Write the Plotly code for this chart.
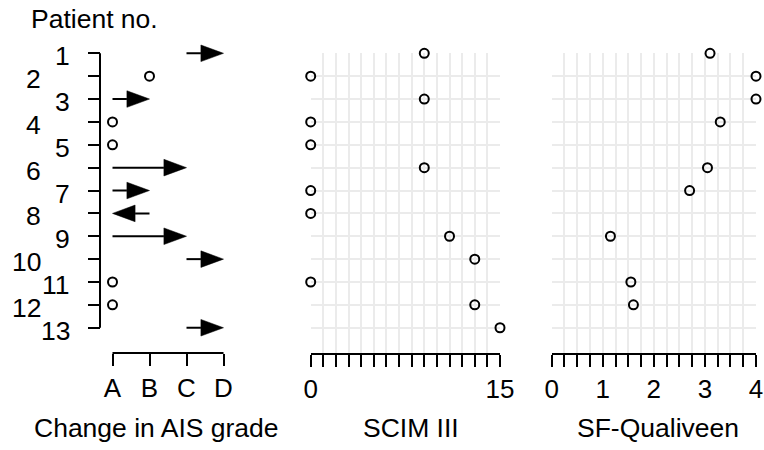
import plotly.graph_objects as go

# ---------------- data ----------------
patients = list(range(1, 13 + 1))
grade_labels = ["A", "B", "C", "D"]
# AIS grade at start and end (1=A ... 4=D)
ais_start = [3, 2, 1, 1, 1, 1, 1, 2, 1, 3, 1, 1, 3]
ais_end   = [4, 2, 2, 1, 1, 3, 2, 1, 3, 4, 1, 1, 4]
scim = [9, 0, 9, 0, 0, 9, 0, 0, 11, 13, 0, 13, 15]
sfq = [3.1, 4.0, 4.0, 3.3, None, 3.05, 2.7, None, 1.15, None, 1.55, 1.6, None]

# ---------------- geometry (pixels) ----------------
W, H = 764, 450
ROW1_PX, ROW_PX = 53.3, 22.87
AXIS_PX = 353.0
R_BOTTOM = 1 + (AXIS_PX - ROW1_PX) / ROW_PX
FONT = dict(family="Liberation Sans, Arial, sans-serif", size=26, color="black")
TITLE_FONT = dict(family="Liberation Sans, Arial, sans-serif", size=26.5, color="black")
GRID = "#ebebeb"

def xp(px):
    return px / W

def yp(py):
    return 1 - py / H

def ypx(r):
    return ROW1_PX + (r - 1) * ROW_PX

# left panel mapping: A(1)->112.5px, D(4)->223.5px
L_X0, L_X1 = 112.5, 223.5
L_UNIT = (L_X1 - L_X0) / 3
L_RANGE = [0.5, 4.5]
L_TOP_ROW = 0.3
HEAD_LEN = 22.6 / L_UNIT
HEAD_HALF = 8.3 / ROW_PX

fig = go.Figure()

marker = dict(symbol="circle-open", size=9, color="black", line=dict(width=2, color="black"))

# no-change points
nc_x = [s for s, e in zip(ais_start, ais_end) if s == e]
nc_y = [p for p, s, e in zip(patients, ais_start, ais_end) if s == e]
fig.add_trace(go.Scatter(x=nc_x, y=nc_y, mode="markers", marker=marker,
                         cliponaxis=False, xaxis="x", yaxis="y", showlegend=False))

# arrows
lx, ly, tx, ty = [], [], [], []
for p, s, e in zip(patients, ais_start, ais_end):
    if s == e:
        continue
    d = 1 if e > s else -1
    base = e - d * HEAD_LEN
    lx += [s, base, None]
    ly += [p, p, None]
    tx += [base, e, base, base, None]
    ty += [p - HEAD_HALF, p, p + HEAD_HALF, p - HEAD_HALF, None]
fig.add_trace(go.Scatter(x=lx, y=ly, mode="lines", line=dict(color="black", width=2),
                         xaxis="x", yaxis="y", showlegend=False))
fig.add_trace(go.Scatter(x=tx, y=ty, mode="lines", fill="toself", fillcolor="black",
                         line=dict(color="black", width=0.5),
                         xaxis="x", yaxis="y", showlegend=False))

# SCIM
fig.add_trace(go.Scatter(x=scim, y=patients, mode="markers", marker=marker,
                         cliponaxis=False, xaxis="x2", yaxis="y2", showlegend=False))
# SF-Qualiveen
fig.add_trace(go.Scatter(x=sfq, y=patients, mode="markers", marker=marker,
                         cliponaxis=False, xaxis="x3", yaxis="y3", showlegend=False))

tick_common = dict(ticks="outside", ticklen=12, tickwidth=2, tickcolor="black",
                   tickfont=FONT, zeroline=False, automargin=False)

lx0 = L_X0 - (1 - L_RANGE[0]) * L_UNIT
lx1 = L_X1 + (L_RANGE[1] - 4) * L_UNIT
scim_ticks = list(range(0, 16))
sfq_ticks = [i * 0.25 for i in range(17)]

fig.update_layout(
    template="none",
    width=W, height=H, margin=dict(l=0, r=0, t=0, b=0, autoexpand=False),
    paper_bgcolor="white", plot_bgcolor="white", font=FONT,
    xaxis=dict(domain=[xp(lx0), xp(lx1)], range=L_RANGE, anchor="y",
               tickvals=[1, 2, 3, 4], ticktext=grade_labels, showgrid=False,
               showline=False, **tick_common),
    yaxis=dict(domain=[yp(AXIS_PX), yp(ypx(L_TOP_ROW))], range=[R_BOTTOM, L_TOP_ROW],
               anchor="free", position=xp(100), tickvals=patients, showticklabels=False,
               showgrid=False, showline=False, ticks="outside", ticklen=12, tickwidth=2,
               tickcolor="black", zeroline=False, automargin=False),
    xaxis2=dict(domain=[xp(310.7), xp(500.0)], range=[0, 15], anchor="y2",
                tickvals=scim_ticks,
                ticktext=[str(v) if v in (0, 15) else "" for v in scim_ticks],
                showgrid=True, gridcolor=GRID, gridwidth=2,
                showline=True, linewidth=2, linecolor="black", **tick_common),
    yaxis2=dict(domain=[yp(AXIS_PX), yp(ROW1_PX)], range=[R_BOTTOM, 1], anchor="x2",
                tickvals=patients, showticklabels=False, ticks="", showgrid=True,
                gridcolor=GRID, gridwidth=2, zeroline=False, showline=False,
                automargin=False),
    xaxis3=dict(domain=[xp(551.7), xp(756.0)], range=[0, 4], anchor="y3",
                tickvals=sfq_ticks,
                ticktext=[str(int(v)) if v == int(v) else "" for v in sfq_ticks],
                showgrid=True, gridcolor=GRID, gridwidth=2,
                showline=True, linewidth=2, linecolor="black", **tick_common),
    yaxis3=dict(domain=[yp(AXIS_PX), yp(ROW1_PX)], range=[R_BOTTOM, 1], anchor="x3",
                tickvals=patients, showticklabels=False, ticks="", showgrid=True,
                gridcolor=GRID, gridwidth=2, zeroline=False, showline=False,
                automargin=False),
)

# axis lines of the left panel (span first to last tick only)
fig.add_shape(type="line", xref="x", yref="paper", x0=1, x1=4,
              y0=yp(AXIS_PX), y1=yp(AXIS_PX), line=dict(color="black", width=2))
fig.add_shape(type="line", xref="paper", yref="y", x0=xp(100), x1=xp(100),
              y0=patients[0], y1=patients[-1], line=dict(color="black", width=2))

# patient labels, alternating positions
for p in patients:
    fig.add_annotation(x=xp(72) if p % 2 == 1 else xp(43), y=p, xref="paper", yref="y",
                       text=str(p), showarrow=False, xanchor="right", yanchor="middle",
                       yshift=-3, font=TITLE_FONT)

# titles
fig.add_annotation(x=xp(29), y=yp(19), xref="paper", yref="paper", text="Patient no.",
                   showarrow=False, xanchor="left", yanchor="middle", font=TITLE_FONT)
for txt, cx in [("Change in AIS grade", 156), ("SCIM III", 410.5), ("SF-Qualiveen", 657.5)]:
    fig.add_annotation(x=xp(cx), y=yp(428), xref="paper", yref="paper", text=txt,
                       showarrow=False, xanchor="center", yanchor="middle", font=TITLE_FONT)

fig.write_html("out.html")
